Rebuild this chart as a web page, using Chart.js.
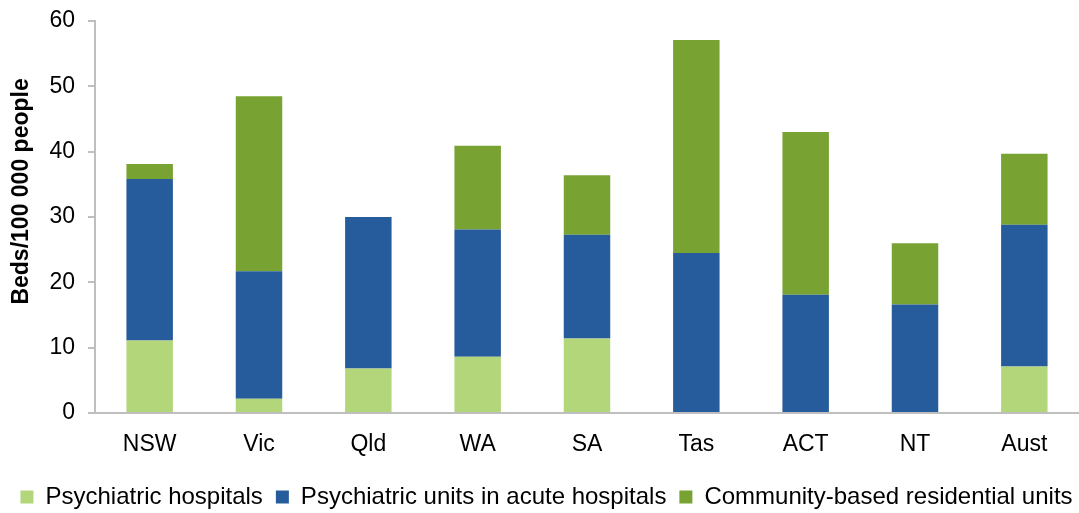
<!DOCTYPE html>
<html>
<head>
<meta charset="utf-8">
<script src="https://cdn.jsdelivr.net/npm/chart.js@4"></script>
<style>
  html, body { margin: 0; padding: 0; background: #fff; }
  #wrap { width: 1079px; height: 513px; }
</style>
</head>
<body>
<div id="wrap"><canvas id="c"></canvas></div>
<script>
// beds per 100 000 people
var states = ['NSW', 'Vic', 'Qld', 'WA', 'SA', 'Tas', 'ACT', 'NT', 'Aust']
var psychHospitals = [11.1, 2.2, 6.8, 8.6, 11.4, 0, 0, 0, 7.1]
var acuteUnits = [24.7, 19.5, 23.2, 19.5, 15.9, 24.5, 18.1, 16.6, 21.7]
var communityUnits = [2.3, 26.8, 0, 12.8, 9.1, 32.6, 24.9, 9.4, 10.9]
var yTicks = [0, 10, 20, 30, 40, 50, 60]

Chart.defaults.font.family = '"Liberation Sans", Arial, sans-serif'
Chart.defaults.color = '#000'

function series(label, data, color) {
  return {
    label: label,
    data: data,
    backgroundColor: color,
    borderWidth: 0,
    barPercentage: 0.425,
    categoryPercentage: 1
  }
}

// the source legend sits a bit right of centre
var nudgeLegend = {
  id: 'nudgeLegend',
  afterLayout: function (chart) {
    chart.legend.left += 7
    chart.legend.right += 7
  }
}

new Chart(document.getElementById('c'), {
  type: 'bar',
  data: {
    labels: states,
    datasets: [
      series('Psychiatric hospitals', psychHospitals, '#B3D67A'),
      series('Psychiatric units in acute hospitals', acuteUnits, '#265B9C'),
      series('Community-based residential units', communityUnits, '#78A232')
    ]
  },
  plugins: [nudgeLegend],
  options: {
    responsive: true,
    maintainAspectRatio: false,
    animation: false,
    layout: { padding: { top: 21, right: 0, left: 0, bottom: -6 } },
    plugins: {
      tooltip: { enabled: false },
      legend: {
        position: 'bottom',
        labels: {
          boxWidth: 13,
          boxHeight: 13,
          padding: 13,
          font: { size: 24 }
        }
      }
    },
    scales: {
      x: {
        stacked: true,
        grid: { display: false },
        border: { color: '#BFBFBF', width: 2 },
        ticks: { font: { size: 23 }, padding: 10 },
        afterFit: function (axis) {
          axis.height = 59
          axis.paddingLeft = 0
          axis.paddingRight = 0
        }
      },
      y: {
        stacked: true,
        min: 0,
        max: 60,
        afterBuildTicks: function (axis) {
          axis.ticks = yTicks.map(function (v) { return { value: v } })
        },
        afterFit: function (axis) {
          axis.width = 95
          axis.paddingTop = 0
          axis.paddingBottom = 0
        },
        grid: { drawOnChartArea: false, drawTicks: true, tickLength: 7, color: '#BFBFBF', lineWidth: 2 },
        border: { color: '#BFBFBF', width: 2 },
        ticks: { font: { size: 23 }, padding: 13 },
        title: {
          display: true,
          // leading spaces lift the label a little above the axis middle, as in the source
          text: '        Beds/100 000 people',
          font: { size: 23, weight: 'bold' },
          padding: { top: 8, bottom: 4 }
        }
      }
    }
  }
})
</script>
</body>
</html>
